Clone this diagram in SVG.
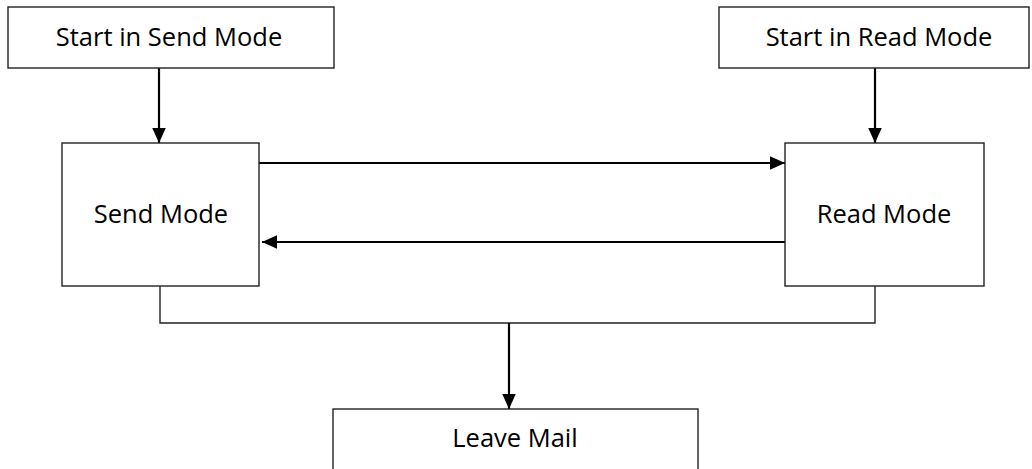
<svg xmlns="http://www.w3.org/2000/svg" width="1032" height="469" viewBox="0 0 1032 469">
<style>
.box{fill:#fff;stroke:#222;stroke-width:1.4}
.lbl{font-family:"Open Sans","Noto Sans","Liberation Sans",sans-serif;font-size:25.5px;fill:#000;text-anchor:middle}
.arr{fill:none;stroke:#000;stroke-width:2.2}
.ln{fill:none;stroke:#222;stroke-width:1.4}
</style>
<defs>
<marker id="ah" viewBox="0 0 10 10" refX="10" refY="5" markerWidth="15" markerHeight="15" markerUnits="userSpaceOnUse" orient="auto">
<path d="M0,0.5 L10,5 L0,9.5 Z" fill="#000"/>
</marker>
</defs>
<rect width="1032" height="469" fill="#fff"/>
<g id="connectors">
<line class="arr" x1="159" y1="68" x2="159" y2="143" marker-end="url(#ah)"/>
<line class="arr" x1="875" y1="68" x2="875" y2="143" marker-end="url(#ah)"/>
<line class="arr" x1="259" y1="163" x2="785" y2="163" marker-end="url(#ah)"/>
<line class="arr" x1="788" y1="242" x2="262" y2="242" marker-end="url(#ah)"/>
<polyline class="ln" points="160,286 160,323 875,323 875,286"/>
<line class="arr" x1="509" y1="323" x2="509" y2="409" marker-end="url(#ah)"/>
</g>
<g id="start-send">
<rect class="box" x="8" y="7" width="326" height="61"/>
<text class="lbl" x="169" y="46">Start in Send Mode</text>
</g>
<g id="start-read">
<rect class="box" x="719" y="7" width="310" height="61"/>
<text class="lbl" x="879" y="46">Start in Read Mode</text>
</g>
<g id="send-mode">
<rect class="box" x="62" y="143" width="197" height="143"/>
<text class="lbl" x="161" y="223">Send Mode</text>
</g>
<g id="read-mode">
<rect class="box" x="785" y="143" width="199" height="143"/>
<text class="lbl" x="884" y="223">Read Mode</text>
</g>
<g id="leave-mail">
<rect class="box" x="333" y="409" width="365" height="80"/>
<text class="lbl" x="515" y="447">Leave Mail</text>
</g>
</svg>
